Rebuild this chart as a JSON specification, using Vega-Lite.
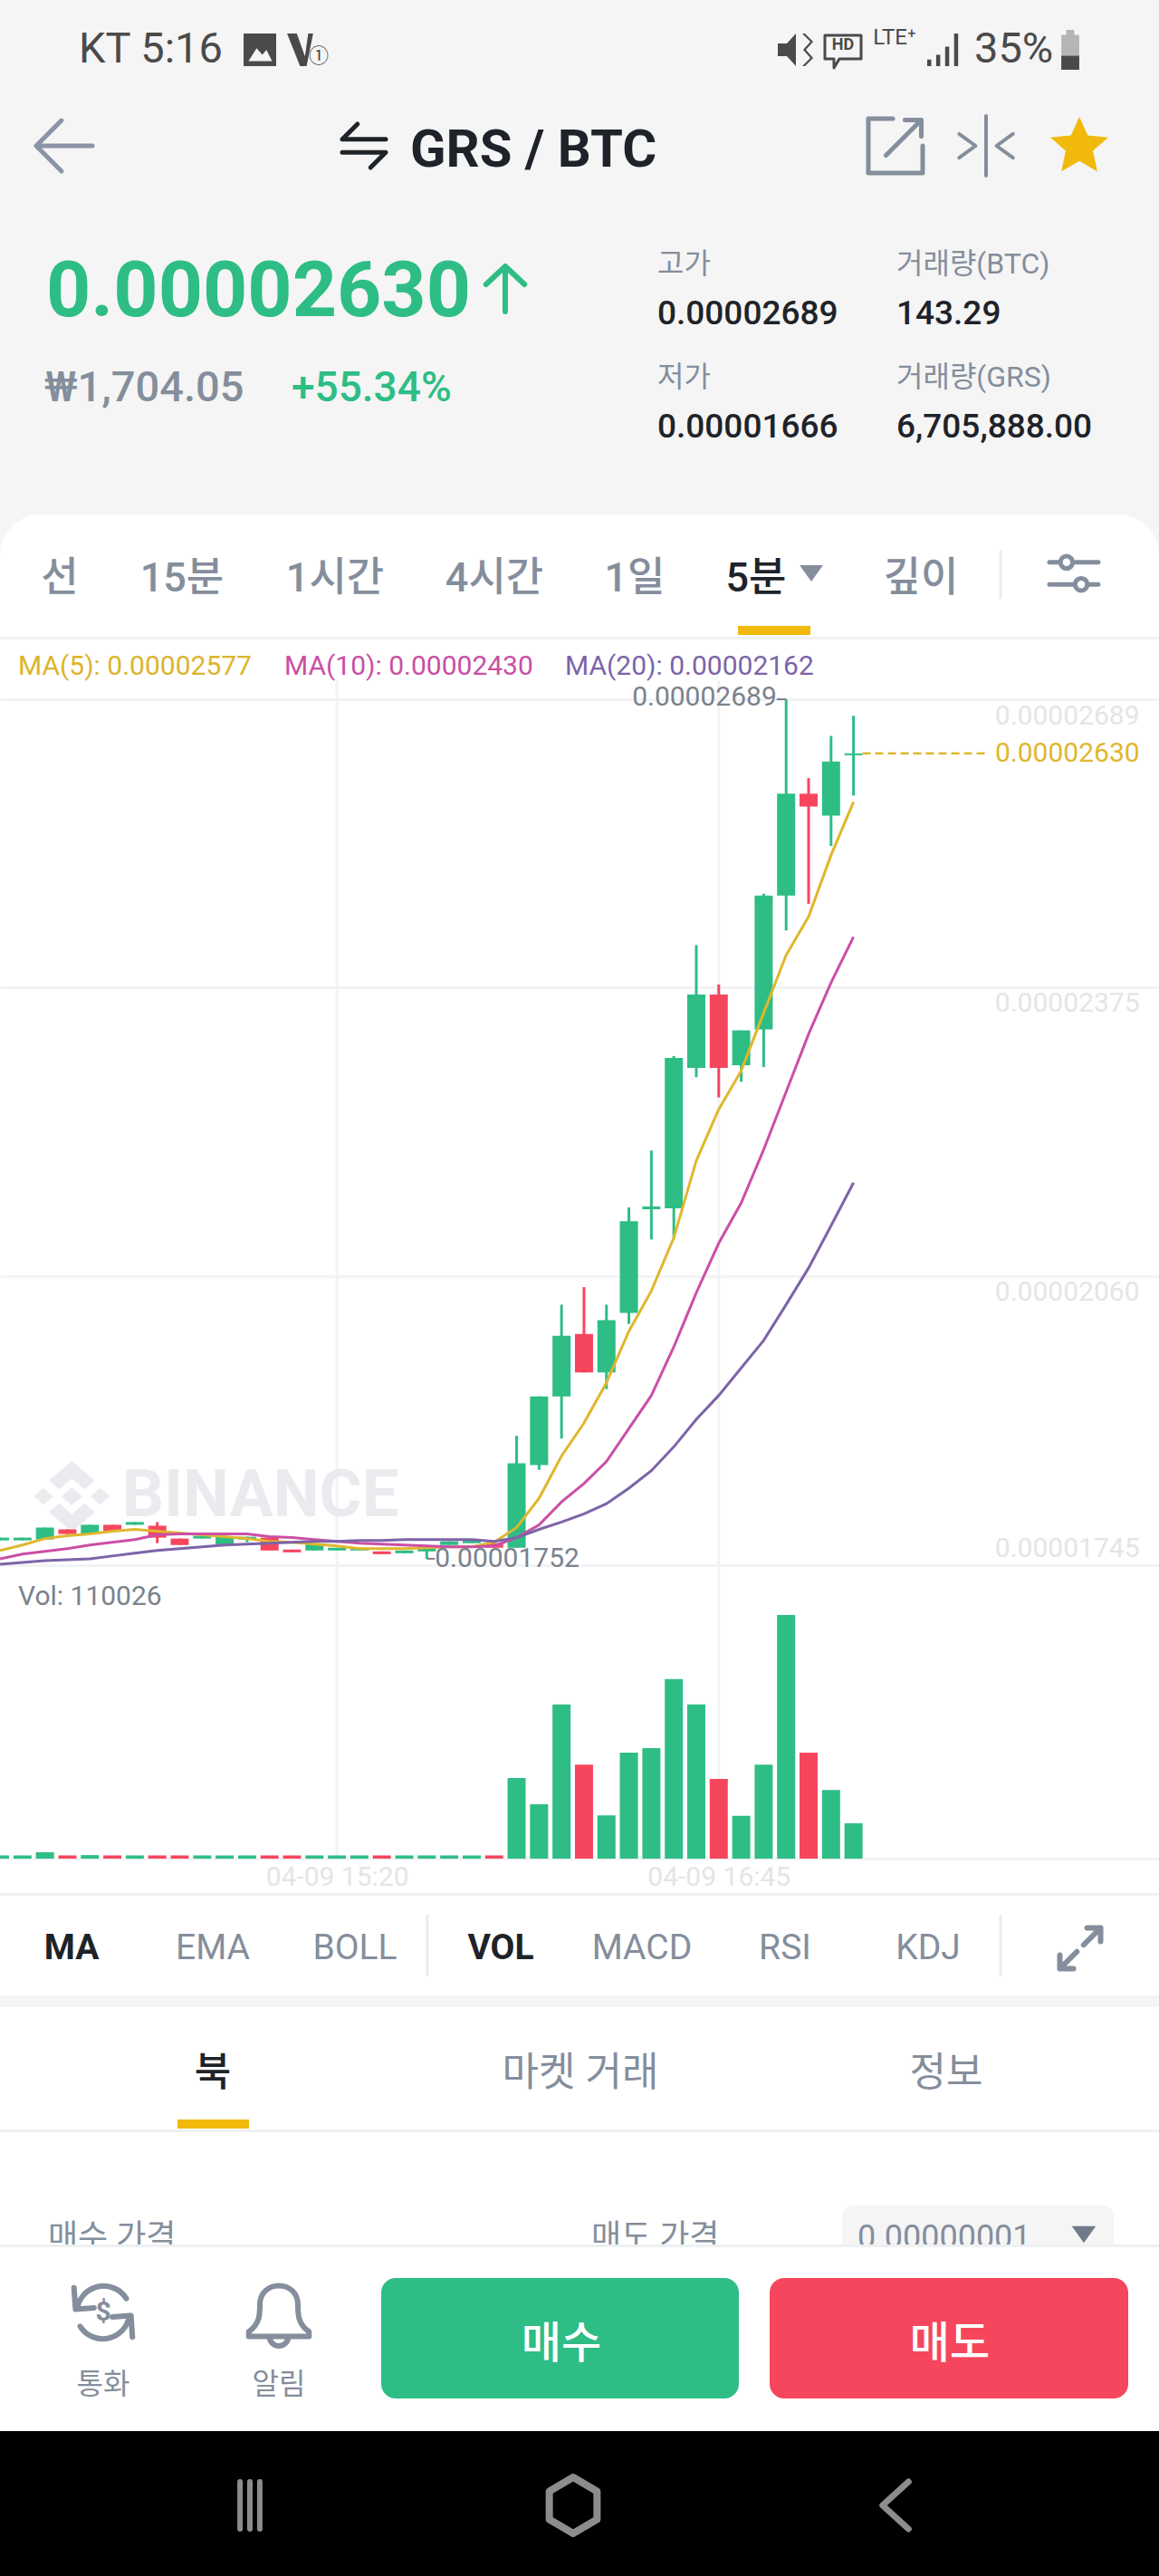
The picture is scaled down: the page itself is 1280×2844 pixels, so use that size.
{
  "$schema": "https://vega.github.io/schema/vega-lite/v6.json",
  "width": 1280,
  "height": 2844,
  "padding": 0,
  "autosize": {"type": "none"},
  "background": "#ffffff",
  "config": {"view": {"stroke": null}, "text": {"font": "Roboto, 'Noto Sans CJK KR'"}},
  "datasets": {
    "candles": [
      {"time":"2020-04-09T14:05:00Z","open":0.00001772,"close":0.00001775,"high":0.00001775,"low":0.00001772,"vol":10000,"ma5":0.00001761,"ma10":0.00001752,"ma20":0.00001746},
      {"time":"2020-04-09T14:10:00Z","open":0.00001772,"close":0.00001775,"high":0.00001775,"low":0.00001772,"vol":10000,"ma5":0.00001767,"ma10":0.00001757,"ma20":0.00001748},
      {"time":"2020-04-09T14:15:00Z","open":0.00001773,"close":0.00001786,"high":0.00001786,"low":0.00001773,"vol":20000,"ma5":0.00001774,"ma10":0.0000176,"ma20":0.0000175},
      {"time":"2020-04-09T14:20:00Z","open":0.00001784,"close":0.00001779,"high":0.00001784,"low":0.00001779,"vol":10000,"ma5":0.00001777,"ma10":0.00001763,"ma20":0.00001751},
      {"time":"2020-04-09T14:25:00Z","open":0.00001779,"close":0.00001789,"high":0.00001789,"low":0.00001779,"vol":11000,"ma5":0.00001779,"ma10":0.00001767,"ma20":0.00001752},
      {"time":"2020-04-09T14:30:00Z","open":0.00001789,"close":0.00001782,"high":0.00001789,"low":0.00001782,"vol":10000,"ma5":0.00001782,"ma10":0.0000177,"ma20":0.00001755},
      {"time":"2020-04-09T14:35:00Z","open":0.00001789,"close":0.00001792,"high":0.00001792,"low":0.00001789,"vol":10000,"ma5":0.00001784,"ma10":0.00001773,"ma20":0.00001758},
      {"time":"2020-04-09T14:40:00Z","open":0.00001788,"close":0.00001775,"high":0.00001792,"low":0.00001769,"vol":10000,"ma5":0.00001782,"ma10":0.00001778,"ma20":0.00001761},
      {"time":"2020-04-09T14:45:00Z","open":0.00001774,"close":0.00001767,"high":0.00001774,"low":0.00001767,"vol":10000,"ma5":0.0000178,"ma10":0.00001779,"ma20":0.00001763},
      {"time":"2020-04-09T14:50:00Z","open":0.00001774,"close":0.00001777,"high":0.00001777,"low":0.00001774,"vol":10000,"ma5":0.00001778,"ma10":0.00001779,"ma20":0.00001765},
      {"time":"2020-04-09T14:55:00Z","open":0.00001767,"close":0.00001776,"high":0.00001776,"low":0.00001767,"vol":10000,"ma5":0.00001776,"ma10":0.00001779,"ma20":0.00001767},
      {"time":"2020-04-09T15:00:00Z","open":0.00001773,"close":0.00001776,"high":0.00001776,"low":0.0000177,"vol":10000,"ma5":0.00001774,"ma10":0.00001779,"ma20":0.00001768},
      {"time":"2020-04-09T15:05:00Z","open":0.00001775,"close":0.00001761,"high":0.00001775,"low":0.00001761,"vol":10000,"ma5":0.00001771,"ma10":0.00001776,"ma20":0.00001769},
      {"time":"2020-04-09T15:10:00Z","open":0.00001762,"close":0.00001759,"high":0.00001762,"low":0.00001759,"vol":10000,"ma5":0.0000177,"ma10":0.00001775,"ma20":0.0000177},
      {"time":"2020-04-09T15:15:00Z","open":0.00001761,"close":0.00001768,"high":0.00001768,"low":0.00001761,"vol":10000,"ma5":0.00001768,"ma10":0.00001773,"ma20":0.00001771},
      {"time":"2020-04-09T15:20:00Z","open":0.00001761,"close":0.00001764,"high":0.00001764,"low":0.00001761,"vol":10000,"ma5":0.00001766,"ma10":0.00001771,"ma20":0.00001771},
      {"time":"2020-04-09T15:25:00Z","open":0.00001761,"close":0.00001764,"high":0.00001764,"low":0.00001761,"vol":10000,"ma5":0.00001763,"ma10":0.00001769,"ma20":0.00001772},
      {"time":"2020-04-09T15:30:00Z","open":0.0000176,"close":0.00001757,"high":0.0000176,"low":0.00001757,"vol":10000,"ma5":0.00001763,"ma10":0.00001768,"ma20":0.00001772},
      {"time":"2020-04-09T15:35:00Z","open":0.00001758,"close":0.00001761,"high":0.00001761,"low":0.00001758,"vol":10000,"ma5":0.00001763,"ma10":0.00001767,"ma20":0.00001773},
      {"time":"2020-04-09T15:40:00Z","open":0.0000176,"close":0.00001763,"high":0.00001763,"low":0.00001752,"vol":10000,"ma5":0.00001764,"ma10":0.00001766,"ma20":0.00001773},
      {"time":"2020-04-09T15:45:00Z","open":0.00001767,"close":0.00001771,"high":0.00001771,"low":0.00001767,"vol":10000,"ma5":0.00001765,"ma10":0.00001765,"ma20":0.00001773},
      {"time":"2020-04-09T15:50:00Z","open":0.00001769,"close":0.00001772,"high":0.00001772,"low":0.00001769,"vol":10000,"ma5":0.00001765,"ma10":0.00001765,"ma20":0.00001773},
      {"time":"2020-04-09T15:55:00Z","open":0.00001769,"close":0.00001764,"high":0.00001769,"low":0.00001764,"vol":10000,"ma5":0.0000177,"ma10":0.00001766,"ma20":0.00001771},
      {"time":"2020-04-09T16:00:00Z","open":0.00001764,"close":0.00001856,"high":0.00001886,"low":0.00001764,"vol":251000,"ma5":0.00001786,"ma10":0.00001775,"ma20":0.00001775},
      {"time":"2020-04-09T16:05:00Z","open":0.00001854,"close":0.00001929,"high":0.00001929,"low":0.00001849,"vol":169000,"ma5":0.00001818,"ma10":0.00001789,"ma20":0.00001784},
      {"time":"2020-04-09T16:10:00Z","open":0.00001929,"close":0.00001995,"high":0.00002029,"low":0.00001883,"vol":480000,"ma5":0.00001864,"ma10":0.00001814,"ma20":0.00001792},
      {"time":"2020-04-09T16:15:00Z","open":0.00001997,"close":0.00001955,"high":0.00002048,"low":0.00001955,"vol":293000,"ma5":0.000019,"ma10":0.00001834,"ma20":0.00001801},
      {"time":"2020-04-09T16:20:00Z","open":0.00001955,"close":0.00002012,"high":0.00002029,"low":0.00001937,"vol":135000,"ma5":0.00001944,"ma10":0.00001858,"ma20":0.00001812},
      {"time":"2020-04-09T16:25:00Z","open":0.0000202,"close":0.0000212,"high":0.00002135,"low":0.00002008,"vol":330000,"ma5":0.00002,"ma10":0.00001894,"ma20":0.00001829},
      {"time":"2020-04-09T16:30:00Z","open":0.00002133,"close":0.00002136,"high":0.00002197,"low":0.000021,"vol":344000,"ma5":0.00002044,"ma10":0.0000193,"ma20":0.00001848},
      {"time":"2020-04-09T16:35:00Z","open":0.00002134,"close":0.00002298,"high":0.000023,"low":0.00002101,"vol":559000,"ma5":0.00002102,"ma10":0.00001983,"ma20":0.00001874},
      {"time":"2020-04-09T16:40:00Z","open":0.00002287,"close":0.00002367,"high":0.00002421,"low":0.00002277,"vol":480000,"ma5":0.00002186,"ma10":0.00002042,"ma20":0.00001904},
      {"time":"2020-04-09T16:45:00Z","open":0.00002367,"close":0.00002287,"high":0.00002378,"low":0.00002255,"vol":248000,"ma5":0.00002242,"ma10":0.00002096,"ma20":0.0000193},
      {"time":"2020-04-09T16:50:00Z","open":0.0000229,"close":0.00002328,"high":0.00002328,"low":0.00002272,"vol":133000,"ma5":0.00002284,"ma10":0.0000214,"ma20":0.0000196},
      {"time":"2020-04-09T16:55:00Z","open":0.00002329,"close":0.00002475,"high":0.00002477,"low":0.00002288,"vol":293000,"ma5":0.00002347,"ma10":0.00002198,"ma20":0.0000199},
      {"time":"2020-04-09T17:00:00Z","open":0.00002475,"close":0.00002586,"high":0.00002689,"low":0.00002437,"vol":759000,"ma5":0.0000241,"ma10":0.00002261,"ma20":0.00002029},
      {"time":"2020-04-09T17:05:00Z","open":0.00002586,"close":0.00002572,"high":0.00002603,"low":0.00002466,"vol":330000,"ma5":0.00002452,"ma10":0.00002324,"ma20":0.00002069},
      {"time":"2020-04-09T17:10:00Z","open":0.00002562,"close":0.00002621,"high":0.00002649,"low":0.00002529,"vol":214000,"ma5":0.00002519,"ma10":0.0000238,"ma20":0.00002115},
      {"time":"2020-04-09T17:15:00Z","open":0.00002628,"close":0.0000263,"high":0.00002671,"low":0.00002584,"vol":110026,"ma5":0.00002577,"ma10":0.0000243,"ma20":0.00002162}
    ],
    "gridTimes": [{"time":"2020-04-09T15:20:00Z"},{"time":"2020-04-09T16:45:00Z"}],
    "extremes": [
      {"side":"high","time":"2020-04-09T16:57:54Z","time2":"2020-04-09T17:00:00Z","price":0.00002689,"label":"0.00002689"},
      {"side":"low","time":"2020-04-09T15:41:48Z","time2":"2020-04-09T15:40:00Z","price":0.00001752,"label":"0.00001752"}
    ],
    "lastDash": [{"time":"2020-04-09T17:17:00Z","time2":"2020-04-09T17:44:12Z","price":0.0000263}],
    "lastLabel": [{"time":"2020-04-09T18:18:42Z","price":0.0000263,"label":"0.00002630"}],
    "watermarkLogo": [{"time":"2020-04-09T14:21:00Z","price":0.0000182}],
    "watermarkText": [{"time":"2020-04-09T14:32:12Z","price":0.0000182,"label":"BINANCE"}],
    "blocks": [
      {"part":"header","col":0,"col2":67,"row":0,"row2":16},
      {"part":"card","col":0,"col2":67,"row":14,"row2":22},
      {"part":"line","col":0,"col2":67,"row":21,"row2":22},
      {"part":"accent","col":38,"col2":44,"row":19,"row2":20},
      {"part":"line","col":0,"col2":67,"row":25,"row2":26},
      {"part":"header","col":0,"col2":67,"row":30,"row2":31},
      {"part":"line","col":0,"col2":67,"row":35,"row2":36},
      {"part":"accent","col":10,"col2":13,"row":33,"row2":34},
      {"part":"select","col":46,"col2":65,"row":37,"row2":40},
      {"part":"bar","col":0,"col2":67,"row":40,"row2":48},
      {"part":"line","col":0,"col2":67,"row":40,"row2":41},
      {"part":"buy","col":24,"col2":39,"row":42,"row2":47},
      {"part":"sell","col":41,"col2":66,"row":42,"row2":47},
      {"part":"nav","col":0,"col2":67,"row":48,"row2":50}
    ],
    "dividers": [
      {"col":59,"row":15,"row2":18},
      {"col":26,"row":27,"row2":29},
      {"col":59,"row":27,"row2":29}
    ],
    "form": [
      {"label":"매수 가격","col":4,"row":39},
      {"label":"매도 가격","col":34,"row":39},
      {"label":"0.00000001","col":48,"row":39}
    ],
    "ui": [
      {"label":"KT 5:16","col":8,"row":3,"kind":"status"},
      {"label":"35%","col":57,"row":3,"kind":"status"},
      {"label":"고가","col":37,"row":7,"kind":"quote"},
      {"label":"거래량(BTC)","col":51,"row":7,"kind":"quote"},
      {"label":"저가","col":37,"row":11,"kind":"quote"},
      {"label":"거래량(GRS)","col":51,"row":11,"kind":"quote"},
      {"label":"MA(5): 0.00002577","col":1,"row":23,"kind":"ma5"},
      {"label":"MA(10): 0.00002430","col":17,"row":23,"kind":"ma10"},
      {"label":"MA(20): 0.00002162","col":31,"row":23,"kind":"ma20"},
      {"label":"Vol: 110026","col":1,"row":24,"kind":"vol"},
      {"label":"GRS / BTC","col":25,"row":6,"kind":"title"},
      {"label":"0.00002630","col":3,"row":9,"kind":"price"},
      {"label":"₩1,704.05","col":2,"row":12,"kind":"fiat"},
      {"label":"+55.34%","col":18,"row":12,"kind":"change"},
      {"label":"0.00002689","col":37,"row":10,"kind":"stat"},
      {"label":"143.29","col":51,"row":10,"kind":"stat"},
      {"label":"0.00001666","col":37,"row":13,"kind":"stat"},
      {"label":"6,705,888.00","col":51,"row":13,"kind":"stat"},
      {"label":"HD","col":47,"row":2,"kind":"mini"},
      {"label":"LTE⁺","col":49,"row":1,"kind":"lte"},
      {"label":"①","col":20,"row":4,"kind":"circ"},
      {"label":"선","col":5,"row":17,"kind":"tab"},
      {"label":"15분","col":11,"row":17,"kind":"tab"},
      {"label":"1시간","col":21,"row":17,"kind":"tab"},
      {"label":"4시간","col":27,"row":17,"kind":"tab"},
      {"label":"1일","col":35,"row":17,"kind":"tab"},
      {"label":"5분","col":40,"row":17,"kind":"tabActive"},
      {"label":"깊이","col":52,"row":17,"kind":"tab"},
      {"label":"MA","col":7,"row":28,"kind":"indActive"},
      {"label":"EMA","col":12,"row":28,"kind":"ind"},
      {"label":"BOLL","col":22,"row":28,"kind":"ind"},
      {"label":"VOL","col":28,"row":28,"kind":"indActive"},
      {"label":"MACD","col":36,"row":28,"kind":"ind"},
      {"label":"RSI","col":42,"row":28,"kind":"ind"},
      {"label":"KDJ","col":53,"row":28,"kind":"ind"},
      {"label":"북","col":12,"row":32,"kind":"sectActive"},
      {"label":"마켓 거래","col":33,"row":32,"kind":"sect"},
      {"label":"정보","col":55,"row":32,"kind":"sect"},
      {"label":"통화","col":9,"row":46,"kind":"small"},
      {"label":"알림","col":16,"row":46,"kind":"small"},
      {"label":"매수","col":30,"row":45,"kind":"btn"},
      {"label":"매도","col":56,"row":45,"kind":"btn"},
      {"label":"$","col":9,"row":43,"kind":"dollar"}
    ],
    "lineIcons": [
      {"icon":"back","col":6,"row":5},
      {"icon":"swap","col":23,"row":5},
      {"icon":"link","col":50,"row":5},
      {"icon":"compare","col":58,"row":5},
      {"icon":"up","col":29,"row":8},
      {"icon":"sliders","col":61,"row":16},
      {"icon":"expand","col":63,"row":28},
      {"icon":"currency","col":9,"row":43},
      {"icon":"bell","col":16,"row":44},
      {"icon":"bars","col":14,"row":49},
      {"icon":"hex","col":32,"row":49},
      {"icon":"chevron","col":50,"row":49},
      {"icon":"bubble","col":47,"row":3}
    ],
    "fillIcons": [
      {"icon":"star","col":62,"row":5},
      {"icon":"caret","col":45,"row":16},
      {"icon":"caretSmall","col":64,"row":38},
      {"icon":"image","col":15,"row":3},
      {"icon":"wifi","col":19,"row":3},
      {"icon":"mute","col":43,"row":3},
      {"icon":"signal","col":54,"row":3},
      {"icon":"battery","col":60,"row":3},
      {"icon":"level","col":60,"row":3}
    ]
  },
  "resolve": {"scale": {"x": "independent", "y": "independent"}},
  "layer": [
    {
      "resolve": {"scale": {"size": "independent", "color": "independent", "shape": "independent", "strokeWidth": "independent"}},
      "encoding": {
        "x": {"field": "col", "type": "quantitative", "axis": null, "scale": {"nice": false, "zero": false, "domain": [0,1,2,3,4,5,6,7,8,9,10,11,12,13,14,15,16,17,18,19,20,21,22,23,24,25,26,27,28,29,30,31,32,33,34,35,36,37,38,39,40,41,42,43,44,45,46,47,48,49,50,51,52,53,54,55,56,57,58,59,60,61,62,63,64,65,66,67], "range": [0,20,49,51,53,66,71,79,87,114,196,201,235,275,276,287,308,314,322,335,352,370,392,402,421,453,472,546,553,558,620,624,633,641,653,701,709,726,815,816,835,850,867,879,895,896,930,931,947,988,989,990,1017,1025,1042,1045,1049,1076,1089,1105,1182,1186,1192,1193,1197,1230,1246,1280]}},
        "y": {"field": "row", "type": "quantitative", "axis": null, "scale": {"nice": false, "zero": false, "domain": [0,1,2,3,4,5,6,7,8,9,10,11,12,13,14,15,16,17,18,19,20,21,22,23,24,25,26,27,28,29,30,31,32,33,34,35,36,37,38,39,40,41,42,43,44,45,46,47,48,49,50], "range": [0,42,50,55,62,161,167,292,319,323,347,417,429,472,568,608,633,639,661,691,701,703,706,736,1763,2090,2093,2114,2151,2182,2203,2216,2290,2340,2350,2351,2354,2435,2467,2471,2478,2481,2515,2553,2555,2589,2633,2648,2684,2766,2844]}}
      },
      "layer": [
        {
          "data": {"name": "blocks"},
          "encoding": {
            "x2": {"field": "col2"},
            "y2": {"field": "row2"},
            "fill": {"field": "part", "type": "nominal", "legend": null, "scale": {"domain": ["header","card","line","accent","select","bar","buy","sell","nav"], "range": ["#f5f5f5","#ffffff","#eef0f2","#f0b90b","#f5f5f5","#ffffff","#2ebd85","#f6465d","#000000"]}}
          },
          "layer": [
            {"transform": [{"filter": {"field": "part", "equal": "header"}}], "mark": {"type": "rect"}},
            {"transform": [{"filter": {"field": "part", "equal": "card"}}], "mark": {"type": "rect", "cornerRadiusTopLeft": 45, "cornerRadiusTopRight": 45}},
            {"transform": [{"filter": {"field": "part", "oneOf": ["line","accent"]}}], "mark": {"type": "rect"}},
            {"transform": [{"filter": {"field": "part", "equal": "select"}}], "mark": {"type": "rect", "cornerRadiusTopLeft": 12, "cornerRadiusTopRight": 12}}
          ]
        },
        {
          "data": {"name": "form"},
          "mark": {"type": "text", "align": "left", "baseline": "middle", "fontSize": 36, "color": "#848e9c", "font": "Roboto, 'Noto Sans CJK KR'"},
          "encoding": {"text": {"field": "label"}}
        },
        {
          "data": {"name": "fillIcons"},
          "transform": [{"filter": {"field": "icon", "equal": "caretSmall"}}],
          "mark": {"type": "point", "filled": true, "opacity": 1, "size": 700, "color": "#6f7a8a", "shape": "M-1,-0.7L1,-0.7L0,0.7Z"}
        },
        {
          "data": {"name": "blocks"},
          "encoding": {
            "x2": {"field": "col2"},
            "y2": {"field": "row2"},
            "fill": {"field": "part", "type": "nominal", "legend": null, "scale": {"domain": ["header","card","line","accent","select","bar","buy","sell","nav"], "range": ["#f5f5f5","#ffffff","#eef0f2","#f0b90b","#f5f5f5","#ffffff","#2ebd85","#f6465d","#000000"]}}
          },
          "layer": [
            {"transform": [{"filter": {"field": "part", "equal": "bar"}}], "mark": {"type": "rect"}},
            {"transform": [{"filter": {"field": "part", "equal": "line"}}, {"filter": {"field": "row", "equal": 40}}], "mark": {"type": "rect"}},
            {"transform": [{"filter": {"field": "part", "oneOf": ["buy","sell"]}}], "mark": {"type": "rect", "cornerRadius": 16}},
            {"transform": [{"filter": {"field": "part", "equal": "nav"}}], "mark": {"type": "rect"}}
          ]
        },
        {
          "data": {"name": "dividers"},
          "mark": {"type": "rule", "color": "#eaecef", "strokeWidth": 3},
          "encoding": {"y2": {"field": "row2"}}
        },
        {
          "data": {"name": "ui"},
          "encoding": {
            "text": {"field": "label"},
            "size": {"field": "kind", "type": "nominal", "legend": null, "scale": {"type": "ordinal", "domain": ["status","mini","lte","circ","title","price","stat","fiat","change","quote","tab","tabActive","ma5","ma10","ma20","vol","ind","indActive","sect","sectActive","small","btn","dollar"], "range": [47,18,24,22,58,86,37,47,46,32,45,45,30,30,30,30,39,39,44,44,32,48,30]}},
            "color": {"field": "kind", "type": "nominal", "legend": null, "scale": {"domain": ["status","mini","lte","circ","title","price","stat","fiat","change","quote","tab","tabActive","ma5","ma10","ma20","vol","ind","indActive","sect","sectActive","small","btn","dollar"], "range": ["#4a4a4a","#4a4a4a","#4a4a4a","#4a4a4a","#1e2329","#2ebd85","#1e2329","#848e9c","#2ebd85","#848e9c","#848e9c","#1e2329","#dcb42c","#c94fa4","#7c64a8","#7a828c","#848e9c","#1e2329","#848e9c","#1e2329","#848e9c","#ffffff","#848e9c"]}}
          },
          "layer": [
            {"transform": [{"filter": {"field": "kind", "oneOf": ["status","quote","ma5","ma10","ma20","vol"]}}], "mark": {"type": "text", "align": "left", "baseline": "middle"}},
            {"transform": [{"filter": {"field": "kind", "oneOf": ["stat","fiat","change"]}}], "mark": {"type": "text", "align": "left", "baseline": "middle", "fontWeight": 500}},
            {"transform": [{"filter": {"field": "kind", "oneOf": ["title","price"]}}], "mark": {"type": "text", "align": "left", "baseline": "middle", "fontWeight": 700}},
            {"transform": [{"filter": {"field": "kind", "oneOf": ["lte","circ","ind","sect","small"]}}], "mark": {"type": "text", "align": "center", "baseline": "middle"}},
            {"transform": [{"filter": {"field": "kind", "oneOf": ["tab","tabActive","btn","sectActive"]}}], "mark": {"type": "text", "align": "center", "baseline": "middle", "fontWeight": 500}},
            {"transform": [{"filter": {"field": "kind", "oneOf": ["mini","indActive","dollar"]}}], "mark": {"type": "text", "align": "center", "baseline": "middle", "fontWeight": 700}}
          ]
        },
        {
          "data": {"name": "lineIcons"},
          "mark": {"type": "point", "filled": false, "opacity": 1, "strokeCap": "round", "strokeJoin": "round"},
          "encoding": {
            "shape": {"field": "icon", "type": "nominal", "legend": null, "scale": {"domain": ["back","swap","link","compare","up","sliders","expand","currency","bell","bars","hex","chevron","bubble"], "range": [
              "M1,0L-1,0M-0.1,-0.9L-1,0L-0.1,0.9",
              "M1,-0.3L-1,-0.3L-0.3,-1M-1,0.3L1,0.3L0.3,1",
              "M-0.1,-1L-1,-1L-1,1L1,1L1,0M-0.35,0.35L0.95,-0.95M0.35,-0.95L0.95,-0.95L0.95,-0.35",
              "M0,-1L0,1M-0.9,-0.4L-0.35,0L-0.9,0.4M0.9,-0.4L0.35,0L0.9,0.4",
              "M0,1L0,-1M-0.85,-0.2L0,-1L0.85,-0.2",
              "M-1,-0.45L-0.55,-0.45M-0.05,-0.45L1,-0.45M-0.55,-0.45A0.25,0.25 0 1,0 -0.05,-0.45A0.25,0.25 0 1,0 -0.55,-0.45M-1,0.45L0.05,0.45M0.55,0.45L1,0.45M0.05,0.45A0.25,0.25 0 1,0 0.55,0.45A0.25,0.25 0 1,0 0.05,0.45",
              "M0.15,-0.15L0.9,-0.9M0.3,-0.9L0.9,-0.9L0.9,-0.3M-0.15,0.15L-0.9,0.9M-0.9,0.3L-0.9,0.9L-0.3,0.9",
              "M-0.85,-0.1A0.87,0.87 0 0,1 0.75,-0.45M0.85,0.1A0.87,0.87 0 0,1 -0.75,0.45M-0.95,-0.8L-0.9,-0.1L-0.3,-0.15M0.95,0.8L0.9,0.1L0.3,0.15",
              "M-0.95,0.55C-0.6,0.3 -0.6,0 -0.6,-0.3C-0.6,-1.1 0.6,-1.1 0.6,-0.3C0.6,0 0.6,0.3 0.95,0.55L0.95,0.7L-0.95,0.7ZM-0.3,0.7A0.3,0.3 0 0,0 0.3,0.7",
              "M-0.42,-1L-0.42,1M0,-1L0,1M0.42,-1L0.42,1",
              "M0,-1L0.85,-0.5L0.85,0.5L0,1L-0.85,0.5L-0.85,-0.5Z",
              "M0.55,-1L-0.55,0L0.55,1",
              "M-1,-0.8L1,-0.8L1,0.5L-0.2,0.5L-0.5,1L-0.5,0.5L-1,0.5Z"
            ]}},
            "size": {"field": "icon", "type": "nominal", "legend": null, "scale": {"type": "ordinal", "domain": ["back","swap","link","compare","up","sliders","expand","currency","bell","bars","hex","chevron","bubble"], "range": [3844,2304,3600,4356,2500,2916,2500,4624,4900,2704,3844,2704,1600]}},
            "strokeWidth": {"field": "icon", "type": "nominal", "legend": null, "scale": {"type": "ordinal", "domain": ["back","swap","link","compare","up","sliders","expand","currency","bell","bars","hex","chevron","bubble"], "range": [5,5,5,4,6,5,6,6,6,6,8,7,3]}},
            "color": {"field": "icon", "type": "nominal", "legend": null, "scale": {"domain": ["back","swap","link","compare","up","sliders","expand","currency","bell","bars","hex","chevron","bubble"], "range": ["#8a94a6","#1e2329","#848e9c","#848e9c","#2ebd85","#848e9c","#848e9c","#848e9c","#848e9c","#8c8c8c","#8c8c8c","#8c8c8c","#4a4a4a"]}}
          }
        },
        {
          "data": {"name": "fillIcons"},
          "transform": [{"filter": {"field": "icon", "oneOf": ["star","caret","image","wifi","mute","signal","battery","level"]}}],
          "mark": {"type": "point", "filled": true, "opacity": 1},
          "encoding": {
            "shape": {"field": "icon", "type": "nominal", "legend": null, "scale": {"domain": ["star","caret","image","wifi","mute","signal","battery","level"], "range": [
              "M0,-1L0.29,-0.36L1,-0.29L0.47,0.17L0.62,0.88L0,0.52L-0.62,0.88L-0.47,0.17L-1,-0.29L-0.29,-0.36Z",
              "M-1,-0.7L1,-0.7L0,0.7Z",
              "M-1,-1L1,-1L1,1L-1,1ZM-0.7,0.7L0.75,0.7L0.4,0L0.15,0.3L-0.2,-0.1Z",
              "M-1,-1L-0.4,-1L0.1,0.4L0.3,-1L0.6,-1L0.2,1L-0.2,1Z",
              "M-1,-0.35L-0.5,-0.35L0,-0.9L0,0.9L-0.5,0.35L-1,0.35ZM0.35,-0.9L0.8,-0.45L0.4,0L0.8,0.45L0.35,0.9L0.5,0.9L0.95,0.45L0.55,0L0.95,-0.45L0.5,-0.9Z",
              "M-1,0.6L-0.75,0.6L-0.75,1L-1,1ZM-0.45,0.3L-0.2,0.3L-0.2,1L-0.45,1ZM0.1,-0.2L0.35,-0.2L0.35,1L0.1,1ZM0.65,-1L0.9,-1L0.9,1L0.65,1Z",
              "M-0.45,-0.75L-0.2,-0.75L-0.2,-1L0.2,-1L0.2,-0.75L0.45,-0.75L0.45,1L-0.45,1Z",
              "M-0.45,0.3L0.45,0.3L0.45,1L-0.45,1Z"
            ]}},
            "size": {"field": "icon", "type": "nominal", "legend": null, "scale": {"type": "ordinal", "domain": ["star","caret","image","wifi","mute","signal","battery","level"], "range": [4096,676,1296,1296,1600,1296,1936,1936]}},
            "color": {"field": "icon", "type": "nominal", "legend": null, "scale": {"domain": ["star","caret","image","wifi","mute","signal","battery","level"], "range": ["#f0b90b","#848e9c","#4a4a4a","#4a4a4a","#4a4a4a","#4a4a4a","#b5b5b5","#4a4a4a"]}}
          }
        }
      ]
    },
    {
      "encoding": {
        "x": {"field": "time", "type": "temporal", "axis": null, "scale": {"type": "utc", "domain": [{"year":2020,"month":4,"date":9,"hours":14,"minutes":6,"utc":true},{"year":2020,"month":4,"date":9,"hours":18,"minutes":22,"utc":true}], "range": [0,1280]}}
      },
      "layer": [
        {
          "data": {"name": "gridTimes"},
          "mark": {"type": "rule", "color": "#f2f3f5", "strokeWidth": 3},
          "encoding": {
            "y": {"datum": 0.00002709, "type": "quantitative", "scale": {"domain": [0.00001745,0.00002689], "range": [1728,772]}, "axis": {"orient": "right", "title": null, "values": [0.00001745,0.0000206,0.00002375,0.00002689], "format": ".8f", "grid": true, "gridColor": "#f2f3f5", "gridWidth": 3, "ticks": false, "domain": false, "labelFont": "Roboto", "labelFontSize": 30, "labelColor": "#e3e5e8", "labelAlign": "right", "labelPadding": -22, "labelOverlap": false, "labelBaseline": {"condition": {"test": "datum.value < 0.000018", "value": "bottom"}, "value": "top"}, "labelOffset": {"condition": {"test": "datum.value < 0.000018", "value": -4}, "value": 3}}},
            "y2": {"datum": 0.00001745}
          }
        },
        {
          "data": {"name": "watermarkLogo"},
          "mark": {"type": "point", "filled": true, "opacity": 1, "color": "#e9ebee", "size": 8464, "shape": "M0,-0.21L0.25,0L0,0.21L-0.25,0ZM-0.68,-0.2L-0.45,0L-0.68,0.2L-0.91,0ZM0.68,-0.2L0.91,0L0.68,0.2L0.45,0ZM0,-0.85L0.55,-0.38L0.3,-0.17L0,-0.43L-0.3,-0.17L-0.55,-0.38ZM0,0.85L-0.55,0.38L-0.3,0.17L0,0.43L0.3,0.17L0.55,0.38Z"},
          "encoding": {"y": {"field": "price", "type": "quantitative", "scale": {"domain": [0.00001745,0.00002689], "range": [1728,772]}}}
        },
        {
          "data": {"name": "watermarkText"},
          "mark": {"type": "text", "align": "left", "baseline": "middle", "fontSize": 72, "fontWeight": 700, "color": "#e9ebee", "font": "Roboto"},
          "encoding": {"y": {"field": "price", "type": "quantitative", "scale": {"domain": [0.00001745,0.00002689], "range": [1728,772]}}, "text": {"field": "label"}}
        },
        {
          "data": {"name": "candles"},
          "mark": {"type": "rule", "strokeWidth": 3},
          "encoding": {
            "y": {"field": "low", "type": "quantitative", "scale": {"domain": [0.00001745,0.00002689], "range": [1728,772]}},
            "y2": {"field": "high"},
            "color": {"condition": {"test": "datum.close >= datum.open", "value": "#2ebd85"}, "value": "#f6465d"}
          }
        },
        {
          "data": {"name": "candles"},
          "mark": {"type": "bar", "size": 20, "orient": "vertical"},
          "encoding": {
            "y": {"field": "open", "type": "quantitative", "scale": {"domain": [0.00001745,0.00002689], "range": [1728,772]}},
            "y2": {"field": "close"},
            "color": {"condition": {"test": "datum.close >= datum.open", "value": "#2ebd85"}, "value": "#f6465d"}
          }
        },
        {
          "data": {"name": "candles"},
          "mark": {"type": "line", "color": "#dfb72e", "strokeWidth": 3},
          "encoding": {"y": {"field": "ma5", "type": "quantitative", "scale": {"domain": [0.00001745,0.00002689], "range": [1728,772]}}}
        },
        {
          "data": {"name": "candles"},
          "mark": {"type": "line", "color": "#cb4fa6", "strokeWidth": 3},
          "encoding": {"y": {"field": "ma10", "type": "quantitative", "scale": {"domain": [0.00001745,0.00002689], "range": [1728,772]}}}
        },
        {
          "data": {"name": "candles"},
          "mark": {"type": "line", "color": "#7c64a8", "strokeWidth": 3},
          "encoding": {"y": {"field": "ma20", "type": "quantitative", "scale": {"domain": [0.00001745,0.00002689], "range": [1728,772]}}}
        },
        {
          "data": {"name": "extremes"},
          "mark": {"type": "rule", "color": "#7a828c", "strokeWidth": 2},
          "encoding": {
            "x2": {"field": "time2"},
            "y": {"field": "price", "type": "quantitative", "scale": {"domain": [0.00001745,0.00002689], "range": [1728,772]}}
          }
        },
        {
          "data": {"name": "extremes"},
          "transform": [{"filter": {"field": "side", "equal": "high"}}],
          "mark": {"type": "text", "align": "right", "baseline": "middle", "fontSize": 30, "color": "#7a828c", "font": "Roboto", "dy": -2},
          "encoding": {"y": {"field": "price", "type": "quantitative", "scale": {"domain": [0.00001745,0.00002689], "range": [1728,772]}}, "text": {"field": "label"}}
        },
        {
          "data": {"name": "extremes"},
          "transform": [{"filter": {"field": "side", "equal": "low"}}],
          "mark": {"type": "text", "align": "left", "baseline": "middle", "fontSize": 30, "color": "#7a828c", "font": "Roboto"},
          "encoding": {"y": {"field": "price", "type": "quantitative", "scale": {"domain": [0.00001745,0.00002689], "range": [1728,772]}}, "text": {"field": "label"}}
        },
        {
          "data": {"name": "lastDash"},
          "mark": {"type": "rule", "color": "#dfb72e", "strokeWidth": 2.5, "strokeDash": [9, 5]},
          "encoding": {
            "x2": {"field": "time2"},
            "y": {"field": "price", "type": "quantitative", "scale": {"domain": [0.00001745,0.00002689], "range": [1728,772]}}
          }
        },
        {
          "data": {"name": "lastLabel"},
          "mark": {"type": "text", "align": "right", "baseline": "middle", "fontSize": 30, "color": "#dfb72e", "font": "Roboto"},
          "encoding": {"y": {"field": "price", "type": "quantitative", "scale": {"domain": [0.00001745,0.00002689], "range": [1728,772]}}, "text": {"field": "label"}}
        }
      ]
    },
    {
      "encoding": {
        "x": {"field": "time", "type": "temporal", "scale": {"type": "utc", "domain": [{"year":2020,"month":4,"date":9,"hours":14,"minutes":6,"utc":true},{"year":2020,"month":4,"date":9,"hours":18,"minutes":22,"utc":true}], "range": [0,1280]}, "axis": {"orient": "bottom", "offset": -792, "title": null, "domain": false, "ticks": false, "grid": false, "format": "%m-%d %H:%M", "labelFont": "Roboto", "labelFontSize": 30, "labelColor": "#e3e5e8", "labelPadding": 5, "labelOverlap": false, "labelFlush": false, "values": [{"year":2020,"month":4,"date":9,"hours":15,"minutes":20,"utc":true},{"year":2020,"month":4,"date":9,"hours":16,"minutes":45,"utc":true}]}}
      },
      "layer": [
        {
          "data": {"name": "gridTimes"},
          "mark": {"type": "rule", "color": "#f2f3f5", "strokeWidth": 3},
          "encoding": {
            "y": {"datum": 0, "type": "quantitative", "scale": {"domain": [0,914000], "range": [2052,1728]}, "axis": {"orient": "left", "title": null, "values": [0], "labels": false, "ticks": false, "domain": false, "grid": true, "gridColor": "#f2f3f5", "gridWidth": 3}},
            "y2": {"datum": 914000}
          }
        },
        {
          "data": {"name": "candles"},
          "mark": {"type": "bar", "size": 20, "orient": "vertical"},
          "encoding": {
            "y": {"field": "vol", "type": "quantitative", "stack": null, "scale": {"domain": [0,914000], "range": [2052,1728]}},
            "color": {"condition": {"test": "datum.close >= datum.open", "value": "#2ebd85"}, "value": "#f6465d"}
          }
        }
      ]
    }
  ]
}
